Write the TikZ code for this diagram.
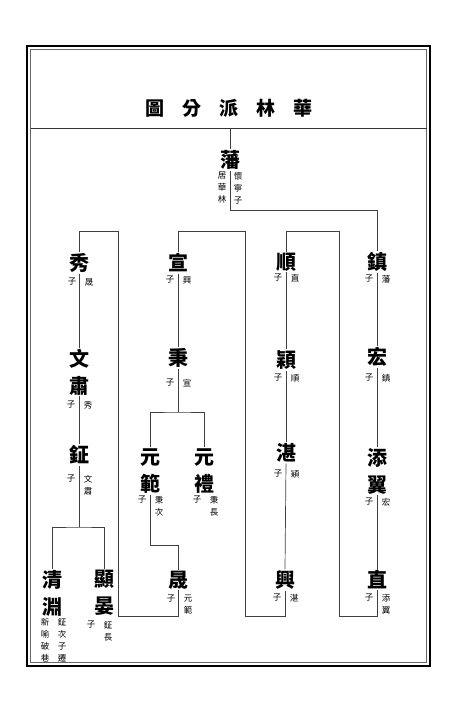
\documentclass[tikz,border=0pt]{standalone}
\usepackage{fontspec}
\setmainfont{Noto Sans CJK TC}
\begin{document}
\begin{tikzpicture}[x=1pt, y=-1pt,
    person/.style={inner sep=1pt, align=center, font=\fontsize{20}{27}\selectfont\bfseries},
    sub/.style={inner sep=0pt, anchor=north, align=center, font=\fontsize{8.5}{12}\selectfont},
    link/.style={black!75, line width=0.7pt}]
    \useasboundingbox (0,0) rectangle (466,718);

    % Frame
    \draw[line width=2.5pt] (27,46) rectangle (430,666);
    \draw[black!60, line width=0.7pt] (30.5,49.5) rectangle (426.5,662.5);
    \coordinate (sepL) at (30.5,128);
    \coordinate (sepR) at (426.5,128);
    \draw[black!80, line width=1pt] (sepL) -- (sepR);

    % Title
    \node[font=\fontsize{19}{19}\selectfont\bfseries] (title) at (229,108)
        {圖\hspace{18pt}分\hspace{18pt}派\hspace{18pt}林\hspace{18pt}華};

    % Ancestor
    \node[person] (fan) at (230,160) {藩};
    \node[sub] (fan-l) at (222,172) {居\\華\\林};
    \node[sub] (fan-r) at (238,172) {懷\\寧\\子};

    % Generations: id/x/y/name/label x/label y/left/right
    \foreach \id/\x/\y/\nm/\lx/\ly/\lt/\rt in {
        zhen/377/262/鎮/377/279/子/藩,
        hong/377/357/宏/377/378/子/鎮,
        tianyi/377/471/{添\\翼}/377/502/子/宏,
        zhi/377/580/直/377/598/子/{添\\翼},
        shun/286/262/順/286/278/子/直,
        ying/286/360/穎/286/378/子/順,
        zhan/286/453/湛/286/474/子/穎,
        xing/285/580/興/285/598/子/湛,
        xuan/178/263/宣/178/280/子/興,
        bing/178/358/秉/178/383/子/宣,
        yuanfan/150/471/{元\\範}/150/500/子/{秉\\次},
        yuanli/204/471/{元\\禮}/205/500/子/{秉\\長},
        sheng/178/580/晟/179/599/子/{元\\範},
        xiu/79/263/秀/80/282/子/晟,
        wensu/79/372/{文\\肅}/79/405/子/秀,
        zheng/79/455/鉦/79/479/子/{文\\肅},
        qingyuan/52/593/{清\\淵}/53/622/{新\\喻\\破\\巷}/{鉦\\次\\子\\遷},
        xianyan/104/593/{顯\\晏}/99/625/子/{鉦\\長}} {
        \node[person] (\id) at (\x,\y) {\nm};
        \node[sub] (\id-l) at (\lx-8,\ly-4) {\lt};
        \node[sub] (\id-r) at (\lx+9,\ly-4) {\rt};
    }

    % Lines of descent
    \coordinate (fanbar) at (0,210);
    \draw[link] (fan.north) -- (fan.north |- sepL);
    \draw[link] (fan.south) -- (fan.south |- fanbar) -| (zhen.north);
    \foreach \a/\b in {zhen/hong, hong/tianyi, tianyi/zhi, shun/ying, ying/zhan,
        zhan/xing, xuan/bing, xiu/wensu, wensu/zheng} {
        \draw[link] (\a.south) -- (\b.north);
    }

    % Branches
    \coordinate (bingfork) at (178,412);
    \coordinate (fanjoin) at (178,545);
    \coordinate (zhengfork) at (79,527);
    \draw[link] (bing.south) -- (bingfork);
    \draw[link] (yuanfan.north) |- (bingfork) -| (yuanli.north);
    \draw[link] (yuanfan.south) |- (fanjoin) -- (sheng.north);
    \draw[link] (zheng.south) -- (zhengfork);
    \draw[link] (qingyuan.north) |- (zhengfork) -| (xianyan.north);

    % Column turns
    \coordinate (bot) at (0,616);
    \coordinate (c1) at (118,231);
    \coordinate (c2) at (245,231);
    \coordinate (c3) at (339,231);
    \draw[link] (zhi.south) |- (c3 |- bot) -- (c3) -| (shun.north);
    \draw[link] (xing.south) |- (c2 |- bot) -- (c2) -| (xuan.north);
    \draw[link] (sheng.south) |- (c1 |- bot) -- (c1) -| (xiu.north);
\end{tikzpicture}
\end{document}
